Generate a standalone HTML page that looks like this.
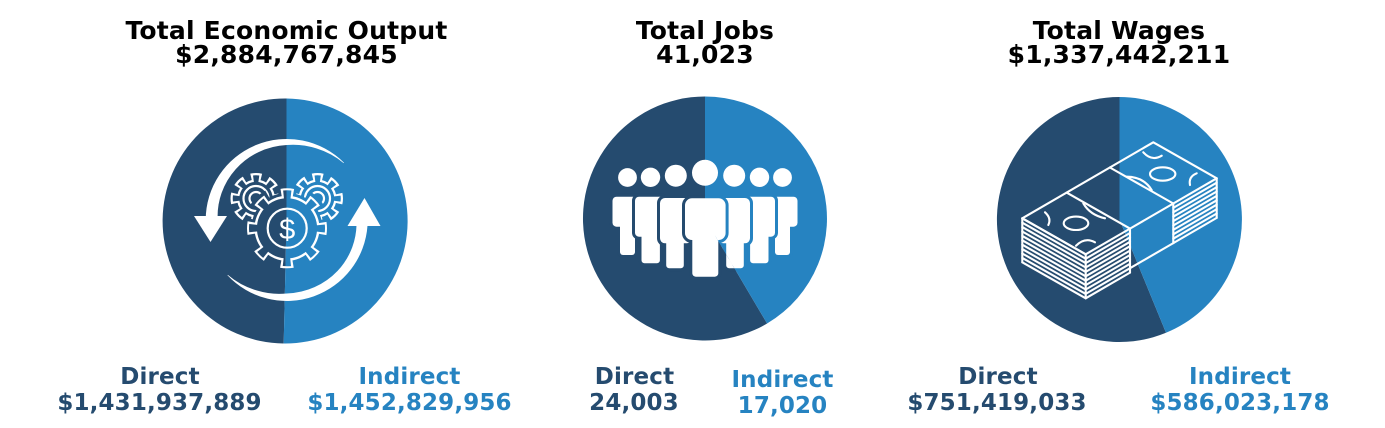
<!DOCTYPE html>
<html>
<head>
<meta charset="utf-8">
<style>
html,body{margin:0;padding:0;background:#fff;}
svg{display:block;}
.t{font-family:"DejaVu Sans","Liberation Sans",sans-serif;font-weight:bold;text-anchor:middle;}
</style>
</head>
<body>
<svg width="1385" height="428" viewBox="0 0 1385 428" xmlns="http://www.w3.org/2000/svg">
<defs>
  <mask id="mBig" maskUnits="userSpaceOnUse" x="0" y="0" width="1385" height="428">
    <circle cx="287" cy="228.3" r="32.5" fill="#fff"/>
    <circle cx="287" cy="228.3" r="35" fill="none" stroke="#fff" stroke-width="10" stroke-dasharray="12 15.489" stroke-dashoffset="6"/>
    <circle cx="287" cy="228.3" r="30.1" fill="#000"/>
    <circle cx="287" cy="228.3" r="33" fill="none" stroke="#000" stroke-width="10" stroke-dasharray="7.3 18.618" stroke-dashoffset="3.65"/>
  </mask>
  <mask id="mSmall" maskUnits="userSpaceOnUse" x="0" y="0" width="1385" height="428">
    <circle cx="256" cy="198.5" r="19" fill="#fff"/>
    <circle cx="256" cy="198.5" r="21.25" fill="none" stroke="#fff" stroke-width="8.5" stroke-dasharray="10 6.69" stroke-dashoffset="5"/>
    <circle cx="256" cy="198.5" r="16.7" fill="#000"/>
    <circle cx="256" cy="198.5" r="19.1" fill="none" stroke="#000" stroke-width="8.3" stroke-dasharray="5.2 9.8" stroke-dashoffset="2.6"/>

    <circle cx="317.5" cy="198.5" r="19" fill="#fff"/>
    <circle cx="317.5" cy="198.5" r="21.25" fill="none" stroke="#fff" stroke-width="8.5" stroke-dasharray="10 6.69" stroke-dashoffset="5"/>
    <circle cx="317.5" cy="198.5" r="16.7" fill="#000"/>
    <circle cx="317.5" cy="198.5" r="19.1" fill="none" stroke="#000" stroke-width="8.3" stroke-dasharray="5.2 9.8" stroke-dashoffset="2.6"/>
  </mask>
  <mask id="mOcc" maskUnits="userSpaceOnUse" x="0" y="0" width="1385" height="428">
    <rect x="0" y="0" width="1385" height="428" fill="#fff"/>
    <circle cx="287" cy="228.3" r="35.5" fill="#000"/>
    <circle cx="287" cy="228.3" r="36.5" fill="none" stroke="#000" stroke-width="14" stroke-dasharray="18.5 10.17" stroke-dashoffset="9.25"/>
  </mask>

  <clipPath id="c2d"><path d="M705 218.5 L767.1 323.5 A122 122 0 1 1 705 96.5 Z"/></clipPath>
  <clipPath id="c2l"><path d="M705 218.5 L705 96.5 A122 122 0 0 1 767.1 323.5 Z"/></clipPath>

  <g id="ppl">
    <g stroke="currentColor" stroke-width="6" fill="#fff">
      <rect x="612.5" y="196.7" width="30" height="30" rx="4"/>
      <rect x="620" y="201.7" width="15" height="53.3" rx="3"/>
    </g>
    <g fill="#fff">
      <rect x="612.5" y="196.7" width="30" height="30" rx="4"/>
      <rect x="620" y="201.7" width="15" height="53.3" rx="3"/>
    </g>
    <g stroke="currentColor" stroke-width="6" fill="#fff">
      <rect x="767.5" y="196.7" width="30" height="30" rx="4"/>
      <rect x="775" y="201.7" width="15" height="53.3" rx="3"/>
    </g>
    <g fill="#fff">
      <rect x="767.5" y="196.7" width="30" height="30" rx="4"/>
      <rect x="775" y="201.7" width="15" height="53.3" rx="3"/>
    </g>
    <g stroke="currentColor" stroke-width="6" fill="#fff">
      <rect x="635" y="196.7" width="31" height="40" rx="4"/>
      <rect x="641.5" y="201.7" width="18.4" height="61.6" rx="3"/>
    </g>
    <g fill="#fff">
      <rect x="635" y="196.7" width="31" height="40" rx="4"/>
      <rect x="641.5" y="201.7" width="18.4" height="61.6" rx="3"/>
    </g>
    <g stroke="currentColor" stroke-width="6" fill="#fff">
      <rect x="744" y="196.7" width="31" height="40" rx="4"/>
      <rect x="750.1" y="201.7" width="18.4" height="61.6" rx="3"/>
    </g>
    <g fill="#fff">
      <rect x="744" y="196.7" width="31" height="40" rx="4"/>
      <rect x="750.1" y="201.7" width="18.4" height="61.6" rx="3"/>
    </g>
    <g stroke="currentColor" stroke-width="6" fill="#fff">
      <rect x="660" y="198" width="31.6" height="45.3" rx="5"/>
      <rect x="666.2" y="203" width="17.6" height="65.3" rx="3"/>
    </g>
    <g fill="#fff">
      <rect x="660" y="198" width="31.6" height="45.3" rx="5"/>
      <rect x="666.2" y="203" width="17.6" height="65.3" rx="3"/>
    </g>
    <g stroke="currentColor" stroke-width="6" fill="#fff">
      <rect x="718.4" y="198" width="31.6" height="45.3" rx="5"/>
      <rect x="726.2" y="203" width="17.6" height="65.3" rx="3"/>
    </g>
    <g fill="#fff">
      <rect x="718.4" y="198" width="31.6" height="45.3" rx="5"/>
      <rect x="726.2" y="203" width="17.6" height="65.3" rx="3"/>
    </g>
    <g stroke="currentColor" stroke-width="6" fill="#fff">
      <rect x="685" y="198.3" width="40.6" height="41.7" rx="7"/>
      <rect x="692.3" y="203.3" width="26" height="73.4" rx="3.5"/>
    </g>
    <g fill="#fff">
      <rect x="685" y="198.3" width="40.6" height="41.7" rx="7"/>
      <rect x="692.3" y="203.3" width="26" height="73.4" rx="3.5"/>
    </g>
    <g fill="#fff">
      <circle cx="627.5" cy="177.5" r="9.4"/>
      <circle cx="650.5" cy="177.3" r="9.7"/>
      <circle cx="675.8" cy="175.7" r="11"/>
      <circle cx="705" cy="172.8" r="13"/>
      <circle cx="734.2" cy="175.7" r="11"/>
      <circle cx="759.5" cy="177.3" r="9.7"/>
      <circle cx="782.5" cy="177.5" r="9.4"/>
    </g>
  </g>
</defs>

<rect x="0" y="0" width="1385" height="428" fill="#fff"/>

<!-- PIE 1 -->
<path d="M286.5 221 L283.7 343.5 A122.5 122.5 0 0 1 286.5 98.5 Z" fill="#254B6F"/>
<path d="M286.5 221 L286.5 98.5 A122.5 122.5 0 1 1 283.7 343.5 Z" fill="#2683C1"/>

<path fill="#fff" d="M205.7 220 A81 81 0 0 1 343.98 162.72 L343.62 163.08 A79 79 0 0 0 316.36 148.4 A76 76 0 0 0 286.7 145 A74 74 0 0 0 258.57 152.09 A73 73 0 0 0 235.79 169.09 A71 71 0 0 0 221.57 193.02 A70 70 0 0 0 217.7 220 Z"/>
<polygon fill="#fff" points="194,216 227,216 210.5,242"/>
<path fill="#fff" d="M367.5 225.65 A81 81 0 0 1 227.46 275.24 L227.82 274.9 A78 78 0 0 0 257.42 290.68 A75 75 0 0 0 286.7 293.5 A73 73 0 0 0 314.52 287.17 A72.3 72.3 0 0 0 337.61 270.91 A71.5 71.5 0 0 0 352.3 247.17 A70.5 70.5 0 0 0 356.53 224.89 Z"/>
<polygon fill="#fff" points="347.5,226 380.5,226 364.5,198"/>

<g mask="url(#mOcc)">
  <rect x="0" y="0" width="1385" height="428" fill="#fff" mask="url(#mSmall)"/>
  <g fill="none" stroke="#fff" stroke-width="2.2">
    <circle cx="256" cy="198.5" r="12.5"/>
    <circle cx="256" cy="198.5" r="6.5"/>
    <circle cx="317.5" cy="198.5" r="12.5"/>
    <circle cx="317.5" cy="198.5" r="6.5"/>
  </g>
</g>
<rect x="0" y="0" width="1385" height="428" fill="#fff" mask="url(#mBig)"/>
<circle cx="287.2" cy="228.2" r="19.5" fill="none" stroke="#fff" stroke-width="2.2"/>
<text x="287.2" y="238.8" fill="#fff" font-family="'Liberation Sans',sans-serif" font-size="29" text-anchor="middle">$</text>

<!-- PIE 2 -->
<path d="M705 218.5 L767.1 323.5 A122 122 0 1 1 705 96.5 Z" fill="#254B6F"/>
<path d="M705 218.5 L705 96.5 A122 122 0 0 1 767.1 323.5 Z" fill="#2683C1"/>
<use href="#ppl" color="#254B6F" clip-path="url(#c2d)"/>
<use href="#ppl" color="#2683C1" clip-path="url(#c2l)"/>

<!-- PIE 3 -->
<path d="M1119.5 219.5 L1166 332.8 A122.5 122.5 0 1 1 1119.5 97 Z" fill="#254B6F"/>
<path d="M1119.5 219.5 L1119.5 97 A122.5 122.5 0 0 1 1166 332.8 Z" fill="#2683C1"/>

<g fill="none" stroke="#fff" stroke-width="2.1" stroke-linejoin="round" stroke-linecap="round">
  <path d="M1022.3 218.3 L1153.3 142.3 L1216.7 178.3"/>
  <path d="M1022.3 218.3 L1085.7 254.3"/>
  <path d="M1066.6 192.6 L1130 228.6"/>
  <path d="M1109.9 167.5 L1173.3 203.5"/>
  <path d="M1022.3 218.3 L1085.7 254.3 M1022.3 222.7 L1085.7 258.7 M1022.3 227.1 L1085.7 263.1 M1022.3 231.5 L1085.7 267.5 M1022.3 235.9 L1085.7 271.9 M1022.3 240.3 L1085.7 276.3 M1022.3 244.7 L1085.7 280.7 M1022.3 249.1 L1085.7 285.1 M1022.3 253.5 L1085.7 289.5 M1022.3 257.9 L1085.7 293.9 M1022.3 262.3 L1085.7 298.3"/>
  <path d="M1085.7 254.3 L1130 228.6 M1085.7 258.7 L1130 233 M1085.7 263.1 L1130 237.4 M1085.7 267.5 L1130 241.8 M1085.7 271.9 L1130 246.2 M1085.7 276.3 L1130 250.6 M1085.7 280.7 L1130 255 M1085.7 285.1 L1130 259.4 M1085.7 289.5 L1130 263.8 M1085.7 293.9 L1130 268.2 M1085.7 298.3 L1130 272.6"/>
  <path d="M1130 228.6 L1173.3 203.5 M1130 268.2 L1173.3 243.1"/>
  <path d="M1173.3 203.5 L1216.7 178.3 M1173.3 207.9 L1216.7 182.7 M1173.3 212.3 L1216.7 187.1 M1173.3 216.7 L1216.7 191.5 M1173.3 221.1 L1216.7 195.9 M1173.3 225.5 L1216.7 200.3 M1173.3 229.9 L1216.7 204.7 M1173.3 234.3 L1216.7 209.1 M1173.3 238.7 L1216.7 213.5 M1173.3 243.1 L1216.7 217.9"/>
  <path d="M1022.3 218.3 L1022.3 262.3 M1085.7 254.3 L1085.7 298.3 M1130 228.6 L1130 272.6 M1173.3 203.5 L1173.3 243.1 M1216.7 178.3 L1216.7 217.9"/>
  <ellipse cx="1076" cy="223.3" rx="12.3" ry="6.7"/>
  <ellipse cx="1162.7" cy="174" rx="12.7" ry="6.7"/>
  <path d="M1045 212.3 Q1051.7 218.3 1048.3 225"/>
  <path d="M1083.3 203.3 Q1090 215 1105 218.3"/>
  <path d="M1076 245.7 Q1085 236.7 1095 242.3"/>
  <path d="M1143.3 152.3 Q1151.7 161.7 1161.7 155.7"/>
  <path d="M1126.7 176.7 Q1143.3 176.7 1151.7 190"/>
  <path d="M1196.7 173.3 Q1188.3 176.7 1190 185"/>
</g>

<!-- TEXT -->
<g class="t" fill="#000" font-size="25" letter-spacing="0.2">
  <text x="286.5" y="39">Total Economic Output</text>
  <text x="286.5" y="63">$2,884,767,845</text>
  <text x="705" y="39">Total Jobs</text>
  <text x="705" y="63">41,023</text>
  <text x="1119" y="39">Total Wages</text>
  <text x="1119" y="63">$1,337,442,211</text>
</g>
<g class="t" font-size="23" letter-spacing="0.15">
  <text x="160" y="384" fill="#254B6F">Direct</text>
  <text x="159.5" y="410" fill="#254B6F">$1,431,937,889</text>
  <text x="409.5" y="384" fill="#2683C1">Indirect</text>
  <text x="409.5" y="410" fill="#2683C1">$1,452,829,956</text>

  <text x="634.5" y="384" fill="#254B6F">Direct</text>
  <text x="634" y="410" fill="#254B6F">24,003</text>
  <text x="782.5" y="387" fill="#2683C1">Indirect</text>
  <text x="782.5" y="413" fill="#2683C1">17,020</text>

  <text x="998" y="384" fill="#254B6F">Direct</text>
  <text x="997" y="410" fill="#254B6F">$751,419,033</text>
  <text x="1240" y="384" fill="#2683C1">Indirect</text>
  <text x="1240" y="410" fill="#2683C1">$586,023,178</text>
</g>
</svg>
</body>
</html>
